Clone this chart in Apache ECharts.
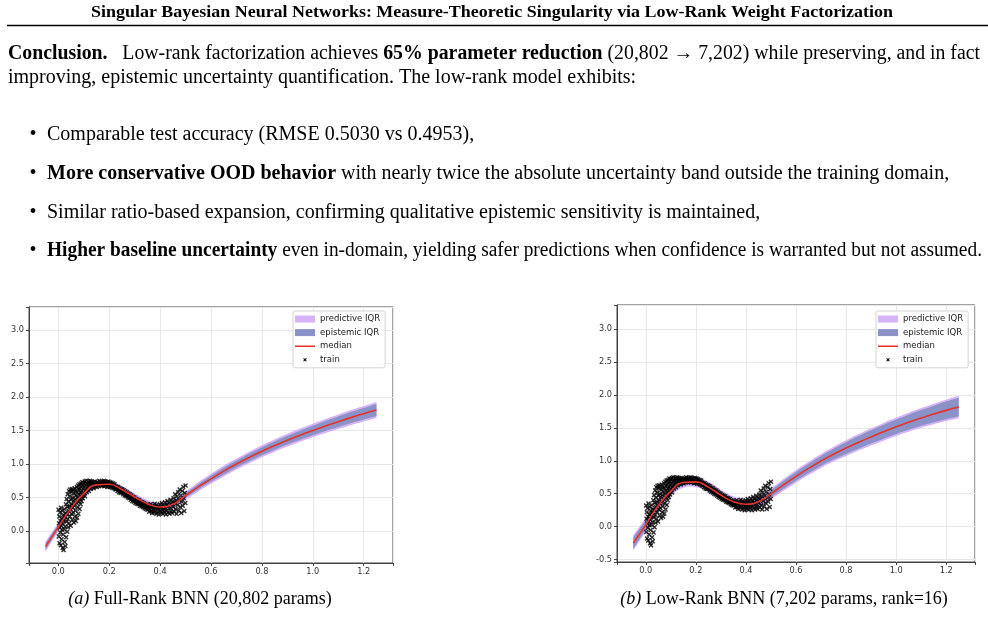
<!DOCTYPE html>
<html>
<head>
<meta charset="utf-8">
<script src="https://cdn.jsdelivr.net/npm/echarts@6.0.0/dist/echarts.min.js"></script>
<style>
  html, body { margin: 0; padding: 0; background: #fff; }
  #page { width: 988px; height: 625px; }
</style>
</head>
<body>
<div id="page"></div>
<script>
// x grid for the model curves
const xGrid = [-0.05, 0, 0.05, 0.1, 0.15, 0.2, 0.25, 0.3, 0.35, 0.4, 0.45, 0.5, 0.55, 0.6, 0.65, 0.7, 0.75, 0.8, 0.85, 0.9, 0.95, 1.0, 1.05, 1.1, 1.15, 1.2, 1.25];

// (a) full-rank
const medA = [-0.23, 0.06, 0.34, 0.56, 0.69, 0.70, 0.62, 0.51, 0.41, 0.36, 0.40, 0.53, 0.66, 0.78, 0.895, 1.00, 1.098, 1.19, 1.275, 1.355, 1.43, 1.50, 1.567, 1.63, 1.692, 1.75, 1.805];
const epiLoA = [-0.28, 0.02, 0.31, 0.53, 0.66, 0.67, 0.59, 0.48, 0.38, 0.33, 0.37, 0.495, 0.62, 0.735, 0.845, 0.948, 1.042, 1.13, 1.213, 1.29, 1.362, 1.43, 1.493, 1.552, 1.61, 1.664, 1.715];
const epiHiA = [-0.18, 0.10, 0.37, 0.59, 0.72, 0.73, 0.65, 0.54, 0.44, 0.39, 0.43, 0.565, 0.70, 0.825, 0.945, 1.052, 1.154, 1.25, 1.337, 1.42, 1.498, 1.57, 1.641, 1.708, 1.774, 1.836, 1.895];
const predLoA = [-0.305, -0.005, 0.285, 0.505, 0.635, 0.645, 0.565, 0.455, 0.355, 0.305, 0.345, 0.47, 0.59, 0.705, 0.815, 0.918, 1.012, 1.10, 1.183, 1.26, 1.332, 1.40, 1.463, 1.522, 1.58, 1.634, 1.685];
const predHiA = [-0.155, 0.125, 0.395, 0.615, 0.745, 0.755, 0.675, 0.565, 0.465, 0.415, 0.455, 0.59, 0.73, 0.855, 0.975, 1.082, 1.184, 1.28, 1.367, 1.45, 1.528, 1.60, 1.671, 1.738, 1.804, 1.866, 1.925];

// (b) low-rank
const medB = [-0.25, 0.03, 0.32, 0.54, 0.67, 0.68, 0.60, 0.48, 0.38, 0.34, 0.38, 0.50, 0.635, 0.763, 0.884, 0.997, 1.10, 1.193, 1.28, 1.362, 1.44, 1.515, 1.585, 1.65, 1.71, 1.765, 1.815];
const epiLoB = [-0.335, -0.04, 0.265, 0.49, 0.62, 0.63, 0.55, 0.43, 0.33, 0.29, 0.33, 0.445, 0.575, 0.698, 0.814, 0.922, 1.018, 1.103, 1.185, 1.262, 1.335, 1.405, 1.47, 1.53, 1.583, 1.632, 1.675];
const epiHiB = [-0.165, 0.10, 0.375, 0.59, 0.72, 0.73, 0.65, 0.53, 0.43, 0.39, 0.43, 0.555, 0.695, 0.828, 0.954, 1.072, 1.182, 1.283, 1.375, 1.462, 1.545, 1.625, 1.70, 1.77, 1.837, 1.898, 1.955];
const predLoB = [-0.365, -0.07, 0.235, 0.46, 0.59, 0.60, 0.52, 0.40, 0.30, 0.26, 0.30, 0.415, 0.545, 0.668, 0.784, 0.892, 0.988, 1.073, 1.155, 1.232, 1.305, 1.375, 1.44, 1.50, 1.553, 1.602, 1.645];
const predHiB = [-0.135, 0.13, 0.405, 0.62, 0.75, 0.76, 0.68, 0.56, 0.46, 0.42, 0.46, 0.585, 0.725, 0.858, 0.984, 1.102, 1.212, 1.313, 1.405, 1.492, 1.575, 1.655, 1.73, 1.80, 1.867, 1.928, 1.985];

// training points (same set in both panels)
const trainPts = [
  [0.001,0.32],[0.002,-0.08],[0.003,0.12],[0.004,0.22],[0.005,-0.18],[0.006,0.05],[0.007,0.28],[0.008,-0.02],[0.009,0.15],[0.010,-0.21],
  [0.011,0.35],[0.012,0.08],[0.013,-0.12],[0.014,0.19],[0.015,0.02],[0.016,0.30],[0.017,-0.25],[0.018,0.11],[0.019,-0.05],[0.020,0.24],
  [0.021,-0.28],[0.022,0.16],[0.023,0.03],[0.024,0.33],[0.025,-0.16],[0.026,0.21],[0.027,0.07],[0.028,-0.22],[0.029,0.27],[0.030,0.40],
  [0.031,-0.09],[0.032,0.14],[0.033,0.48],[0.034,0.25],[0.035,-0.01],[0.036,0.36],[0.037,0.55],[0.038,0.18],[0.039,0.06],[0.040,0.44],
  [0.041,0.30],[0.042,0.60],[0.043,0.12],[0.044,0.38],[0.045,0.52],[0.046,0.22],[0.047,0.62],[0.048,0.33],[0.049,0.08],[0.050,0.47],
  [0.051,0.58],[0.052,0.26],[0.053,0.40],[0.054,0.63],[0.055,0.17],[0.056,0.50],[0.057,0.35],[0.058,0.61],[0.059,0.28],[0.060,0.45],
  [0.061,0.13],[0.062,0.56],[0.063,0.38],[0.064,0.64],[0.065,0.22],[0.066,0.48],[0.067,0.60],[0.068,0.31],[0.069,0.15],[0.070,0.53],
  [0.072,0.42],[0.073,0.66],[0.074,0.20],[0.075,0.58],[0.076,0.36],[0.077,0.50],[0.078,0.68],[0.079,0.26],[0.080,0.62],[0.081,0.44],
  [0.082,0.55],[0.083,0.70],[0.084,0.33],[0.085,0.64],[0.086,0.48],[0.087,0.58],[0.088,0.40],[0.089,0.71],[0.090,0.52],[0.091,0.66],
  [0.092,0.45],[0.093,0.60],[0.094,0.73],[0.095,0.54],[0.096,0.68],[0.097,0.49],[0.098,0.63],[0.099,0.72],[0.100,0.57],
  [0.102,0.66],[0.104,0.74],[0.105,0.52],[0.107,0.69],[0.108,0.61],[0.110,0.75],[0.112,0.58],[0.113,0.70],[0.115,0.64],[0.117,0.74],
  [0.118,0.67],[0.120,0.60],[0.122,0.72],[0.124,0.68],[0.125,0.75],[0.127,0.63],[0.129,0.71],[0.131,0.74],[0.133,0.66],[0.135,0.70],
  [0.137,0.73],[0.139,0.64],[0.141,0.69],[0.143,0.74],[0.145,0.67],[0.147,0.72],[0.149,0.70],
  [0.151,0.66],[0.153,0.73],[0.155,0.69],[0.157,0.72],[0.159,0.67],[0.161,0.75],[0.163,0.70],[0.165,0.73],[0.167,0.68],[0.169,0.71],
  [0.171,0.74],[0.173,0.68],[0.175,0.72],[0.177,0.69],[0.179,0.75],[0.181,0.67],[0.183,0.71],[0.185,0.74],[0.187,0.68],[0.189,0.72],
  [0.191,0.73],[0.193,0.66],[0.195,0.70],[0.197,0.74],[0.199,0.67],[0.201,0.71],[0.203,0.73],[0.205,0.66],[0.207,0.69],[0.209,0.72],
  [0.211,0.65],[0.213,0.68],[0.215,0.71],[0.217,0.64],[0.219,0.67],[0.221,0.70],[0.223,0.63],[0.225,0.67],[0.227,0.62],[0.229,0.66],
  [0.231,0.64],[0.233,0.60],[0.235,0.66],[0.237,0.61],[0.239,0.58],[0.241,0.64],[0.243,0.60],[0.245,0.57],[0.247,0.63],[0.249,0.59],
  [0.251,0.62],[0.253,0.58],[0.255,0.55],[0.257,0.61],[0.259,0.57],[0.261,0.53],[0.263,0.59],[0.265,0.55],[0.267,0.52],[0.269,0.58],
  [0.271,0.54],[0.273,0.50],[0.275,0.56],[0.277,0.52],[0.279,0.49],[0.281,0.55],[0.283,0.51],[0.285,0.47],[0.287,0.53],[0.289,0.49],
  [0.291,0.45],[0.293,0.51],[0.295,0.47],[0.297,0.44],[0.299,0.50],[0.301,0.46],[0.303,0.42],[0.305,0.48],[0.307,0.44],[0.309,0.41],
  [0.311,0.47],[0.313,0.43],[0.315,0.40],[0.317,0.46],[0.319,0.42],[0.321,0.38],[0.323,0.44],[0.325,0.40],[0.327,0.37],[0.329,0.43],
  [0.331,0.39],[0.333,0.36],[0.335,0.42],[0.337,0.38],[0.339,0.34],[0.341,0.40],[0.343,0.36],[0.345,0.33],[0.347,0.39],[0.349,0.35],
  [0.351,0.32],[0.353,0.38],[0.355,0.34],[0.357,0.29],[0.359,0.37],[0.361,0.33],[0.363,0.40],[0.365,0.30],[0.367,0.35],[0.369,0.27],
  [0.371,0.38],[0.373,0.32],[0.375,0.36],[0.377,0.28],[0.379,0.41],[0.381,0.31],[0.383,0.35],[0.385,0.26],[0.387,0.39],[0.389,0.33],
  [0.391,0.29],[0.393,0.37],[0.395,0.25],[0.397,0.34],[0.399,0.40],[0.401,0.30],[0.403,0.36],[0.405,0.27],[0.407,0.42],[0.409,0.32],
  [0.411,0.26],[0.413,0.38],[0.415,0.33],[0.417,0.29],[0.419,0.43],[0.421,0.35],[0.423,0.25],[0.425,0.39],[0.427,0.31],[0.429,0.45],
  [0.431,0.28],[0.433,0.37],[0.435,0.42],[0.437,0.26],[0.439,0.34],[0.441,0.47],[0.443,0.30],[0.445,0.40],[0.447,0.27],[0.449,0.44],
  [0.451,0.36],[0.453,0.49],[0.455,0.29],[0.457,0.42],[0.459,0.55],[0.461,0.33],[0.463,0.46],[0.465,0.26],[0.467,0.52],[0.469,0.39],
  [0.471,0.58],[0.473,0.31],[0.475,0.47],[0.477,0.62],[0.479,0.36],[0.481,0.53],[0.483,0.27],[0.485,0.44],[0.487,0.60],[0.489,0.38],
  [0.491,0.66],[0.493,0.49],[0.495,0.30],[0.497,0.57],[0.499,0.42],[0.500,0.68]
];

const legendNames = ['predictive IQR', 'epistemic IQR', 'median', 'train'];
const captionA = 'Full-Rank BNN (20,802 params)';
const captionB = 'Low-Rank BNN (7,202 params, rank=16)';

const predColor = '#d6b2f6';
const epiColor = '#8a92c8';
const medColor = '#e5332a';
const serif = '"Liberation Serif", "Times New Roman", serif';
const sans = '"DejaVu Sans", sans-serif';
const xMark = 'path://M0,2L2,0L5,3L8,0L10,2L7,5L10,8L8,10L5,7L2,10L0,8L3,5Z';

const chart = echarts.init(document.getElementById('page'), null, {renderer: 'canvas'});

function pairs(ys) {
    return xGrid.map((x, i) => [x, ys[i]]);
}
function tickFmt(step) {
    return function (v) {
        const k = v / step;
        return Math.abs(k - Math.round(k)) < 1e-6 ? v.toFixed(1) : '';
    };
}

// filled band between lo and hi, drawn as one smoothed polygon
function bandSeries(idx, name, lo, hi, color) {
    return {
        type: 'custom', name: name, xAxisIndex: idx, yAxisIndex: idx,
        silent: true, z: 1, clip: true,
        encode: {x: 0, y: 1},
        data: [[xGrid[0], lo[0]]],
        renderItem: function (params, api) {
            const top = xGrid.map((x, i) => api.coord([x, hi[i]]));
            const bot = xGrid.map((x, i) => api.coord([x, lo[i]])).reverse();
            const n = top.length;
            const pts = [top[0]].concat(top, [top[n - 1], bot[0]], bot, [bot[n - 1]]);
            return {
                type: 'polygon',
                shape: {points: pts, smooth: 0.4},
                style: {fill: color}
            };
        }
    };
}

function panelSeries(idx, med, epiLo, epiHi, predLo, predHi) {
    return [
        bandSeries(idx, 'predictive IQR', predLo, predHi, predColor),
        bandSeries(idx, 'epistemic IQR', epiLo, epiHi, epiColor),
        {
            type: 'scatter', name: 'train', xAxisIndex: idx, yAxisIndex: idx,
            data: trainPts, symbol: xMark, symbolSize: 5,
            itemStyle: {color: '#000'}, silent: true, z: 3
        },
        {
            type: 'line', name: 'median', xAxisIndex: idx, yAxisIndex: idx,
            data: pairs(med), smooth: true, symbol: 'none', silent: true,
            color: medColor, lineStyle: {color: medColor, width: 1.6}, z: 4
        }
    ];
}

function xAxisCfg(idx) {
    return {
        type: 'value', gridIndex: idx, min: -0.115, max: 1.315, splitNumber: 7,
        axisLine: {show: true, onZero: false, lineStyle: {color: '#444', width: 1}},
        axisTick: {show: true, length: 3, lineStyle: {color: '#444'}},
        axisLabel: {fontFamily: sans, fontSize: 8.2, color: '#333', margin: 5, formatter: tickFmt(0.2)},
        splitLine: {show: true, lineStyle: {color: '#e8e8e8', width: 1}}
    };
}
function yAxisCfg(idx, min, max) {
    return {
        type: 'value', gridIndex: idx, min: min, max: max, splitNumber: 7,
        axisLine: {show: true, onZero: false, lineStyle: {color: '#444', width: 1}},
        axisTick: {show: true, length: 3, lineStyle: {color: '#444'}},
        axisLabel: {fontFamily: sans, fontSize: 8.2, color: '#333', margin: 5, formatter: tickFmt(0.5)},
        splitLine: {show: true, lineStyle: {color: '#e8e8e8', width: 1}}
    };
}

const lineIcon = 'path://M0,0L0.01,0L0,0.01ZM20,7L19.99,7L20,6.99ZM0,2.7L20,2.7L20,4.3L0,4.3Z';
const trainIcon = 'path://M0,0L0.01,0L0,0.01ZM20,7L19.99,7L20,6.99ZM8.2,2.4L8.9,1.7L10,2.8L11.1,1.7L11.8,2.4L10.7,3.5L11.8,4.6L11.1,5.3L10,4.2L8.9,5.3L8.2,4.6L9.3,3.5Z';

function legendCfg(left, top) {
    return {
        left: left, top: top, orient: 'vertical',
        itemWidth: 20, itemHeight: 7, itemGap: 3.6,
        padding: [3, 5, 3, 2],
        backgroundColor: 'rgba(255,255,255,0.85)',
        borderColor: '#d4d4d4', borderWidth: 1, borderRadius: 2,
        textStyle: {fontFamily: sans, fontSize: 8.5, color: '#222', lineHeight: 10},
        selectedMode: false,
        data: [
            {name: legendNames[0], icon: 'rect', itemStyle: {color: predColor, opacity: 1}},
            {name: legendNames[1], icon: 'rect', itemStyle: {color: epiColor, opacity: 1}},
            {name: legendNames[2], icon: lineIcon, itemStyle: {color: medColor, opacity: 1}},
            {name: legendNames[3], icon: trainIcon, itemStyle: {color: '#000', opacity: 1}}
        ]
    };
}

// page text
const bodySize = 20;
const capSize = 18;
const richBody = {
    n: {fontFamily: serif, fontSize: bodySize, fill: '#000'},
    b: {fontFamily: serif, fontSize: bodySize, fontWeight: 'bold', fill: '#000'}
};
const richCap = {
    n: {fontFamily: serif, fontSize: capSize, fill: '#000'},
    i: {fontFamily: serif, fontSize: capSize, fontStyle: 'italic', fill: '#000'}
};

const measureCtx = document.createElement('canvas').getContext('2d');
function richWidth(text, size) {
    let w = 0;
    text.replace(/\{(\w)\|([^}]*)\}/g, function (m, k, s) {
        measureCtx.font = (k === 'b' ? 'bold ' : '') + (k === 'i' ? 'italic ' : '') + size + 'px ' + serif;
        w += measureCtx.measureText(s).width;
        return m;
    });
    return w;
}

function textEl(x, y, text, rich, align, fitWidth, size) {
    const el = {
        type: 'text', x: x, y: y, silent: true,
        style: {text: text, rich: rich, textAlign: align || 'left', textVerticalAlign: 'middle'}
    };
    if (fitWidth) {
        el.scaleX = fitWidth / richWidth(text, size || bodySize);
    }
    return el;
}

const titleText = 'Singular Bayesian Neural Networks: Measure-Theoretic Singularity via Low-Rank Weight Factorization';
const line1 = '{b|Conclusion.}{n|   Low-rank factorization achieves }{b|65% parameter reduction}{n| (20,802 \u2192 7,202) while preserving, and in fact}';
const line2 = '{n|improving, epistemic uncertainty quantification. The low-rank model exhibits:}';
const bulletY = [135, 173.7, 212.4, 251];
const bulletText = [
    '{n|Comparable test accuracy (RMSE 0.5030 vs 0.4953),}',
    '{b|More conservative OOD behavior}{n| with nearly twice the absolute uncertainty band outside the training domain,}',
    '{n|Similar ratio-based expansion, confirming qualitative epistemic sensitivity is maintained,}',
    '{b|Higher baseline uncertainty}{n| even in-domain, yielding safer predictions when confidence is warranted but not assumed.}'
];
const bulletFit = [0, 0, 0, 935];

measureCtx.font = 'bold 17px ' + serif;
const titleScale = 802 / measureCtx.measureText(titleText).width;

const graphics = [
    {
        type: 'text', x: 492, y: 12.8, silent: true, scaleX: titleScale,
        style: {
            text: titleText, fontFamily: serif, fontSize: 17, fontWeight: 'bold', fill: '#000',
            textAlign: 'center', textVerticalAlign: 'middle'
        }
    },
    {
        type: 'line', silent: true,
        shape: {x1: 7, y1: 25.5, x2: 988, y2: 25.5},
        style: {stroke: '#000', lineWidth: 1.6}
    },
    textEl(8, 53.5, line1, richBody, 'left', 972),
    textEl(8, 77.5, line2, richBody),
    textEl(200, 599.5, '{i|(a)}{n| ' + captionA + '}', richCap, 'center'),
    textEl(784, 599.5, '{i|(b)}{n| ' + captionB + '}', richCap, 'center')
];
bulletY.forEach((y, i) => {
    graphics.push(textEl(29.5, y, '{n|\u2022}', richBody));
    graphics.push(textEl(47, y, bulletText[i], richBody, 'left', bulletFit[i]));
});

chart.setOption({
    backgroundColor: '#fff',
    animation: false,
    grid: [
        {left: 29, top: 307, width: 364, height: 256, show: true, borderColor: '#444', borderWidth: 1, backgroundColor: 'transparent'},
        {left: 617, top: 305, width: 358, height: 257, show: true, borderColor: '#444', borderWidth: 1, backgroundColor: 'transparent'}
    ],
    xAxis: [xAxisCfg(0), xAxisCfg(1)],
    yAxis: [yAxisCfg(0, -0.474, 3.34), yAxisCfg(1, -0.536, 3.364)],
    legend: [legendCfg(293, 311), legendCfg(876, 311)],
    series: [
        ...panelSeries(0, medA, epiLoA, epiHiA, predLoA, predHiA),
        ...panelSeries(1, medB, epiLoB, epiHiB, predLoB, predHiB)
    ],
    graphic: graphics
});
</script>
</body>
</html>
